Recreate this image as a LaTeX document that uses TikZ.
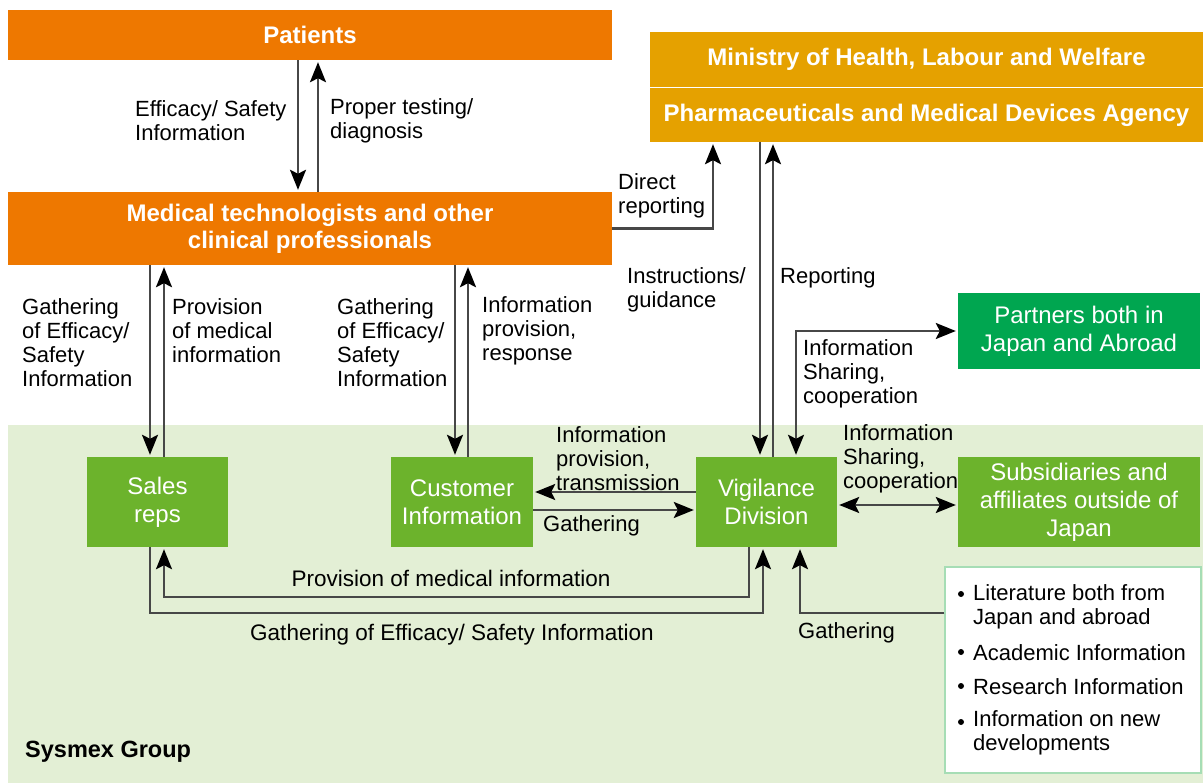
\documentclass[tikz,border=0pt]{standalone}
\usepackage{fontspec}
\setmainfont{Liberation Sans}
\usetikzlibrary{arrows.meta}
\definecolor{orng}{HTML}{EE7800}
\definecolor{gold}{HTML}{E5A100}
\definecolor{grn}{HTML}{6CB32C}
\definecolor{dgrn}{HTML}{00A650}
\definecolor{bggrn}{HTML}{E3EFD5}
\definecolor{litb}{HTML}{A6DDB5}
\begin{document}
\begin{tikzpicture}[x=1pt,y=-1pt,
  ln/.style={draw=black!72, line width=2.3pt, shorten >=2pt},
  arr/.style={ln, -{Stealth[length=20pt,width=16pt,inset=4pt,color=black]}},
  darr/.style={ln, shorten <=2pt, {Stealth[length=20pt,width=16pt,inset=4pt,color=black]}-{Stealth[length=20pt,width=16pt,inset=4pt,color=black]}},
  obox/.style={fill=orng, inner sep=0pt, align=center, text=white, font=\bfseries\fontsize{24}{27}\selectfont},
  ybox/.style={fill=gold, inner sep=0pt, align=center, text=white, font=\bfseries\fontsize{24}{27}\selectfont},
  gbox/.style={fill=grn, inner sep=0pt, align=center, text=white, font=\fontsize{24}{28}\selectfont},
  pbox/.style={fill=dgrn, inner sep=0pt, align=center, text=white, font=\fontsize{24}{28}\selectfont},
  lbl/.style={inner sep=0pt, align=left, anchor=west, font=\fontsize{22}{24}\selectfont},
  clbl/.style={inner sep=0pt, align=center, font=\fontsize{22.5}{24}\selectfont}]
\useasboundingbox (0,0) rectangle (1203,783);
\fill[white] (0,0) rectangle (1203,783);
\fill[bggrn] (8,425) rectangle (1203,783);

% boxes
\node[obox, minimum width=604pt, minimum height=50pt] (pat) at (310,35) {Patients};
\node[obox, minimum width=604pt, minimum height=73pt] (med) at (310,228.5) {Medical technologists and other\\clinical professionals};
\node[ybox, minimum width=553pt, minimum height=55pt] (mhlw) at (926.5,59.5) {Ministry of Health, Labour and Welfare};
\node[ybox, minimum width=553pt, minimum height=54pt] (pmda) at (926.5,115) {Pharmaceuticals and Medical Devices Agency};
\node[pbox, minimum width=242pt, minimum height=76pt] (part) at (1079,331) {Partners both in\\Japan and Abroad};
\node[gbox, minimum width=141pt, minimum height=90pt] (sales) at (157.5,502) {Sales\\reps};
\node[gbox, minimum width=142pt, minimum height=90pt] (cust) at (462,502) {Customer\\Information};
\node[gbox, minimum width=141pt, minimum height=90pt] (vig) at (766.5,502) {Vigilance\\Division};
\node[gbox, minimum width=242pt, minimum height=90pt] (subs) at (1079,502) {Subsidiaries and\\affiliates outside of\\Japan};
\node[draw=litb, line width=1.5pt, fill=white, minimum width=256pt, minimum height=206pt, inner sep=0pt] (lit) at (1073,670) {};

% literature list
\fill (961,594) circle (3pt);
\fill (961,652) circle (3pt);
\fill (961,686) circle (3pt);
\fill (961,722) circle (3pt);
\node[lbl] (l1) at (973,607) {Literature both from\\Japan and abroad};
\node[lbl] (l2) at (973,653) {Academic Information};
\node[lbl] (l3) at (973,687) {Research Information};
\node[lbl] (l4) at (973,733) {Information on new\\developments};

% patients <-> medical
\draw[arr] ([xshift=-12pt]pat.south) -- ([xshift=-12pt]med.north);
\draw[arr] ([xshift=8pt]med.north) -- ([xshift=8pt]pat.south);
\node[lbl] (t1) at (135,121) {Efficacy/ Safety\\Information};
\node[lbl] (t2) at (330,121) {Proper testing/\\diagnosis};

% medical <-> sales
\coordinate (sd) at ([xshift=-7.5pt]sales.north);
\coordinate (su) at ([xshift=6.5pt]sales.north);
\draw[arr] (sd |- med.south) -- (sd);
\draw[arr] (su) -- (su |- med.south);
\node[lbl] (t3) at (22,343) {Gathering\\of Efficacy/\\Safety\\Information};
\node[lbl] (t4) at (172,331) {Provision\\of medical\\information};

% medical <-> customer
\coordinate (cd) at ([xshift=-7pt]cust.north);
\coordinate (cu) at ([xshift=6pt]cust.north);
\draw[arr] (cd |- med.south) -- (cd);
\draw[arr] (cu) -- (cu |- med.south);
\node[lbl] (t5) at (337,343) {Gathering\\of Efficacy/\\Safety\\Information};
\node[lbl] (t6) at (482,331) {Information\\provision,\\response};

% direct reporting
\coordinate (dr) at ([xshift=-213.5pt]pmda.south);
\draw[arr] (med.east) -| (dr);
\node[lbl] (t7) at (618,196) {Direct\\reporting};

% pmda <-> vigilance
\coordinate (vd) at ([xshift=-6.5pt]vig.north);
\coordinate (vu) at ([xshift=6.5pt]vig.north);
\draw[arr] (vd |- pmda.south) -- (vd);
\draw[arr] (vu) -- (vu |- pmda.south);
\node[lbl] (t8) at (627,290) {Instructions/\\guidance};
\node[lbl] (t9) at (780,278) {Reporting};

% vigilance <-> partners
\coordinate (vp) at ([xshift=29.5pt]vig.north);
\draw[darr] (vp) |- (part.west);
\node[lbl] (t10) at (803,374) {Information\\Sharing,\\cooperation};

% vigilance <-> subsidiaries
\draw[darr] ([yshift=-3pt]vig.east) -- ([yshift=-3pt]subs.west);
\node[lbl] (t11) at (843,459) {Information\\Sharing,\\cooperation};

% vigilance <-> customer
\draw[arr] ([yshift=10pt]vig.west) -- ([yshift=10pt]cust.east);
\draw[arr] ([yshift=-8pt]cust.east) -- ([yshift=-8pt]vig.west);
\node[lbl] (t12) at (556,459) {Information\\provision,\\transmission};
\node[lbl] (t13) at (543,526) {Gathering};

% vigilance <-> sales (bottom)
\coordinate (vs1) at ([xshift=-17.5pt]vig.south);
\coordinate (ss1) at ([xshift=6.5pt]sales.south);
\draw[arr] (vs1) -- ++(0,50) -| (ss1);
\coordinate (ss2) at ([xshift=-7.5pt]sales.south);
\coordinate (vs2) at ([xshift=-3.5pt]vig.south);
\draw[arr] (ss2) -- ++(0,66) -| (vs2);
\node[clbl] (t14) at (451,578) {Provision of medical information};
\node[clbl] (t15) at (452,635) {Gathering of Efficacy/ Safety Information};

% literature -> vigilance
\coordinate (vs3) at ([xshift=33.5pt]vig.south);
\draw[arr] ([yshift=57pt]lit.west) -| (vs3);
\node[lbl] (t16) at (798,633) {Gathering};

\node[inner sep=0pt, anchor=west, font=\bfseries\fontsize{23.5}{24}\selectfont] (grp) at (25,752) {Sysmex Group};
\end{tikzpicture}
\end{document}
